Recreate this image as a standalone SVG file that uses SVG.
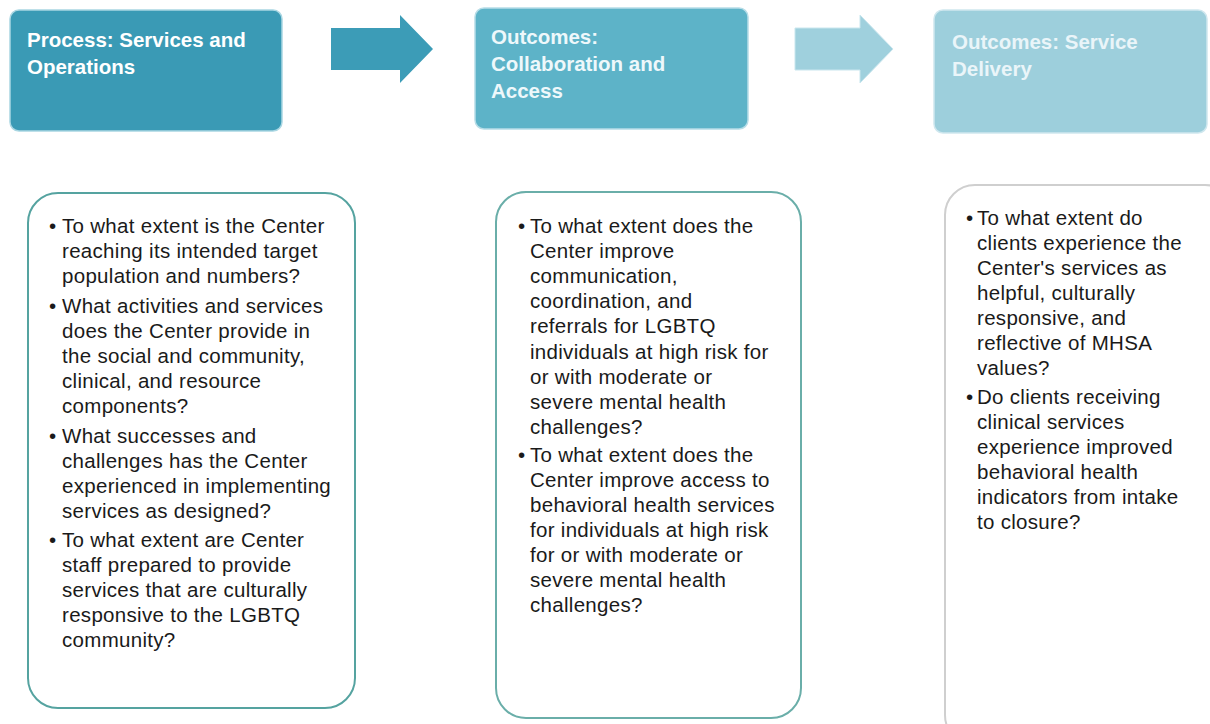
<svg xmlns="http://www.w3.org/2000/svg" width="1210" height="724" viewBox="0 0 1210 724">
<style>
.hd{font-family:"Liberation Sans",Arial,sans-serif;font-weight:bold;font-size:20.5px;}
.bt{font-family:"Liberation Sans",Arial,sans-serif;font-size:20.5px;letter-spacing:0.3px;fill:#1a1a1a;}
.card{fill:#ffffff;stroke-width:2;}
</style>
<rect width="1210" height="724" fill="#ffffff"/>
<g id="header-process">
<rect x="10" y="10" width="272" height="121" rx="9" fill="#3a9ab5" stroke="#a9d6e2" stroke-width="1.5"/>
<text class="hd" fill="#ffffff"><tspan x="27" y="47">Process: Services and</tspan><tspan x="27" y="74">Operations</tspan></text>
</g>
<g id="header-collab">
<rect x="475" y="8" width="273" height="121" rx="9" fill="#5db3c8" stroke="#b7dde7" stroke-width="1.5"/>
<text class="hd" fill="#eef8fb"><tspan x="491" y="44">Outcomes:</tspan><tspan x="491" y="71">Collaboration and</tspan><tspan x="491" y="98">Access</tspan></text>
</g>
<g id="header-delivery">
<rect x="934" y="10" width="273" height="123" rx="9" fill="#9dcfdc" stroke="#cfe7ee" stroke-width="1.5"/>
<text class="hd" fill="#eaf5f9"><tspan x="952" y="49">Outcomes: Service</tspan><tspan x="952" y="76">Delivery</tspan></text>
</g>
<g id="connectors">
<polygon points="331,28 400,28 400,15 433,49 400,83 400,70 331,70" fill="#3c9cb7"/>
<polygon points="795,28 860,28 860,15 893,49 860,83 860,70 795,70" fill="#9fd0dd" stroke="#c9e6ee" stroke-width="1"/>
</g>
<g id="card-process">
<rect class="card" x="28" y="193" width="327" height="515" rx="30" stroke="#55a3a0"/>
<text class="bt">
<tspan x="49" y="233">•</tspan><tspan x="62" y="233">To what extent is the Center</tspan>
<tspan x="62" y="258">reaching its intended target</tspan>
<tspan x="62" y="283">population and numbers?</tspan>
<tspan x="49" y="313">•</tspan><tspan x="62" y="313">What activities and services</tspan>
<tspan x="62" y="338">does the Center provide in</tspan>
<tspan x="62" y="363">the social and community,</tspan>
<tspan x="62" y="388">clinical, and resource</tspan>
<tspan x="62" y="413">components?</tspan>
<tspan x="49" y="443">•</tspan><tspan x="62" y="443">What successes and</tspan>
<tspan x="62" y="468">challenges has the Center</tspan>
<tspan x="62" y="493">experienced in implementing</tspan>
<tspan x="62" y="518">services as designed?</tspan>
<tspan x="49" y="547">•</tspan><tspan x="62" y="547">To what extent are Center</tspan>
<tspan x="62" y="572">staff prepared to provide</tspan>
<tspan x="62" y="597">services that are culturally</tspan>
<tspan x="62" y="622">responsive to the LGBTQ</tspan>
<tspan x="62" y="647">community?</tspan>
</text>
</g>
<g id="card-collab">
<rect class="card" x="496" y="192" width="305" height="526" rx="30" stroke="#6aaea9"/>
<text class="bt">
<tspan x="518" y="233">•</tspan><tspan x="530" y="233">To what extent does the</tspan>
<tspan x="530" y="258">Center improve</tspan>
<tspan x="530" y="283">communication,</tspan>
<tspan x="530" y="308">coordination,  and</tspan>
<tspan x="530" y="333">referrals for LGBTQ</tspan>
<tspan x="530" y="359">individuals at high risk for</tspan>
<tspan x="530" y="384">or with moderate or</tspan>
<tspan x="530" y="409">severe  mental health</tspan>
<tspan x="530" y="434">challenges?</tspan>
<tspan x="518" y="462">•</tspan><tspan x="530" y="462">To what extent does the</tspan>
<tspan x="530" y="487">Center improve access to</tspan>
<tspan x="530" y="512">behavioral health services</tspan>
<tspan x="530" y="537">for individuals at high risk</tspan>
<tspan x="530" y="562">for or with moderate or</tspan>
<tspan x="530" y="587">severe  mental health</tspan>
<tspan x="530" y="612">challenges?</tspan>
</text>
</g>
<g id="card-delivery">
<rect class="card" x="945" y="185" width="290" height="560" rx="30" stroke="#cfcfcf"/>
<text class="bt">
<tspan x="966" y="225">•</tspan><tspan x="977" y="225">To what extent do</tspan>
<tspan x="977" y="250">clients experience the</tspan>
<tspan x="977" y="275">Center's services as</tspan>
<tspan x="977" y="300">helpful, culturally</tspan>
<tspan x="977" y="325">responsive, and</tspan>
<tspan x="977" y="350">reflective of MHSA</tspan>
<tspan x="977" y="375">values?</tspan>
<tspan x="966" y="404">•</tspan><tspan x="977" y="404">Do clients receiving</tspan>
<tspan x="977" y="429">clinical services</tspan>
<tspan x="977" y="454">experience improved</tspan>
<tspan x="977" y="479">behavioral health</tspan>
<tspan x="977" y="504">indicators from intake</tspan>
<tspan x="977" y="529">to closure?</tspan>
</text>
</g>
</svg>
